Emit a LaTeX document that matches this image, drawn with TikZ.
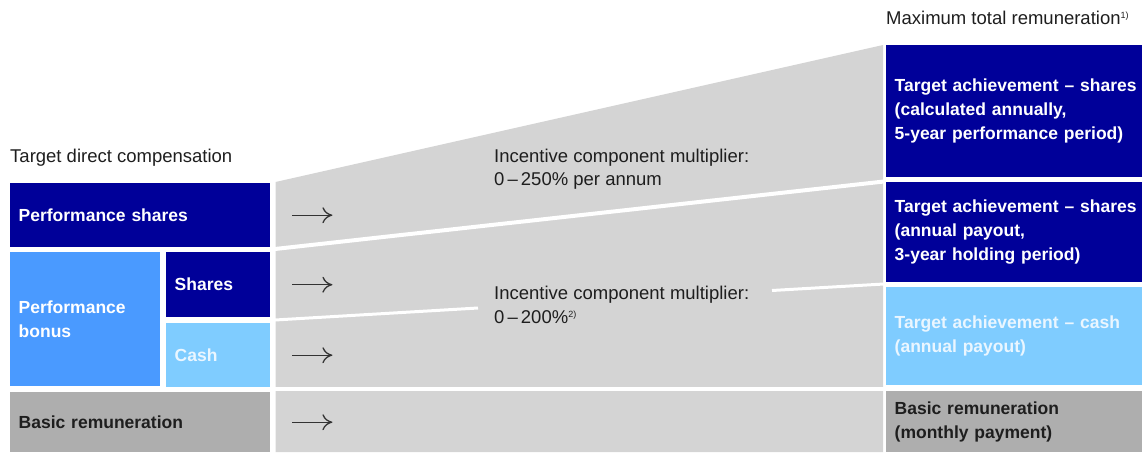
\documentclass[tikz,border=0pt]{standalone}
\usepackage{fontspec}
\setmainfont{Liberation Sans}
\usetikzlibrary{arrows.meta}
\definecolor{navy}{HTML}{000099}
\definecolor{midblue}{HTML}{4A9AFF}
\definecolor{lightblue}{HTML}{7FCCFF}
\definecolor{boxgrey}{HTML}{AEAEAE}
\definecolor{bandgrey}{HTML}{D4D4D4}
\definecolor{txtdark}{HTML}{1E1E1E}
\definecolor{paletxt}{HTML}{EAF6FF}
\definecolor{arrowgrey}{HTML}{333333}
\newcommand{\boldfnt}{\fontsize{17.5}{24}\selectfont\bfseries}
\newcommand{\regfnt}{\fontsize{18.5}{23.5}\selectfont}
\tikzset{
  box/.style={inner xsep=8.5pt, inner ysep=0pt, anchor=north west, align=left, font=\boldfnt},
  rbox/.style={box, minimum width=256pt, text width=252pt},
  caption/.style={inner sep=0pt, anchor=west, align=left, font=\regfnt, text=txtdark},
  arr/.style={-{To[length=10pt,width=16pt]}, line width=1.3pt, draw=arrowgrey},
  sep/.style={draw=white, line width=4pt},
  thinsep/.style={draw=white, line width=3pt}
}
\begin{document}
\begin{tikzpicture}[x=1pt,y=-1pt]
\useasboundingbox (0,0) rectangle (1142,452);
% grey band
\fill[bandgrey] (275.5,182) -- (883,45) -- (883,452) -- (275.5,452) -- cycle;
% separators in band
\coordinate (s1a) at (275,249);
\coordinate (s1b) at (884,181.5);
\coordinate (s2a) at (275,320);
\coordinate (s2b) at (478,308);
\coordinate (s2c) at (772,290.5);
\coordinate (s2d) at (884,284);
\coordinate (s3a) at (275,389);
\coordinate (s3b) at (884,389);
\draw[sep] (s1a) -- (s1b);
\draw[thinsep] (s2a) -- (s2b);
\draw[thinsep] (s2c) -- (s2d);
\draw[sep] (s3a) -- (s3b);
% titles
\node[caption] (t1) at (10,158) {Target direct compensation};
\node[caption] (t2) at (886,18) {Maximum total remuneration\textsuperscript{\fontsize{9}{9}\selectfont 1)}};
% left boxes
\node[box, fill=navy, text=white, minimum height=64pt, text width=243pt] (ps) at (10,183) {Performance shares};
\node[box, fill=midblue, text=white, minimum height=134pt, text width=133pt] (pb) at (10,252) {Performance\\bonus};
\node[box, fill=navy, text=white, minimum height=65pt, text width=87pt] (sh) at (166,252) {Shares};
\node[box, fill=lightblue, text=paletxt, minimum height=64pt, text width=87pt] (ca) at (166,323) {Cash};
\node[box, fill=boxgrey, text=txtdark, minimum height=60pt, text width=243pt] (br) at (10,392) {Basic remuneration};
% right boxes
\node[rbox, fill=navy, text=white, minimum height=132pt] (r1) at (886,45) {Target achievement -- shares\\(calculated annually,\\5-year performance period)};
\node[rbox, fill=navy, text=white, minimum height=100pt] (r2) at (886,182) {Target achievement -- shares\\(annual payout,\\3-year holding period)};
\node[rbox, fill=lightblue, text=paletxt, minimum height=98pt] (r3) at (886,287) {Target achievement -- cash\\(annual payout)};
\node[rbox, fill=boxgrey, text=txtdark, minimum height=61pt] (r4) at (886,391) {Basic remuneration\\(monthly payment)};
% multiplier labels
\node[caption] (m1) at (494,169) {Incentive component multiplier:\\0\,--\,250\% per annum};
\node[caption] (m2) at (494,305) {Incentive component multiplier:\\0\,--\,200\%\textsuperscript{\fontsize{9}{9}\selectfont 2)}};
% arrows
\draw[arr] ([xshift=22pt]ps.east) -- ++(40,0);
\draw[arr] ([xshift=22pt]sh.east) -- ++(40,0);
\draw[arr] ([xshift=22pt]ca.east) -- ++(40,0);
\draw[arr] ([xshift=22pt]br.east) -- ++(40,0);
\end{tikzpicture}
\end{document}
